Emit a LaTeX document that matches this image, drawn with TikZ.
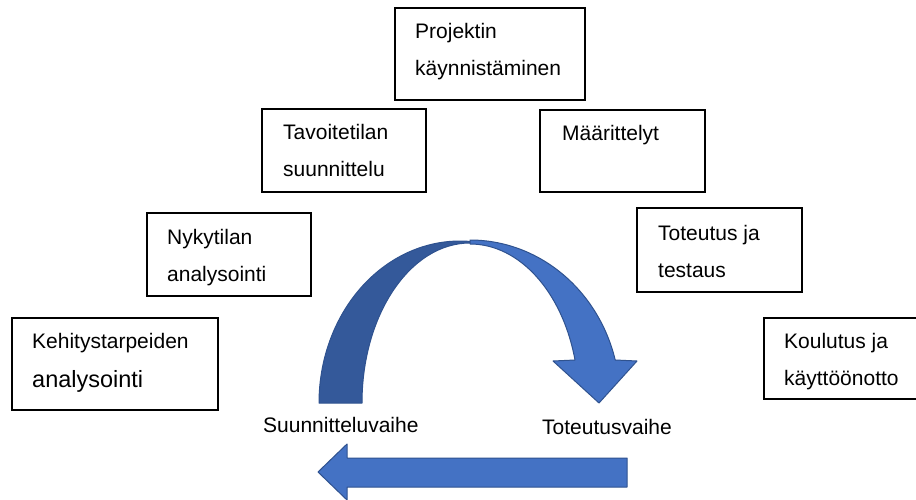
\documentclass[tikz,border=0pt]{standalone}
\usepackage{fontspec}
\setmainfont{Liberation Sans}
\definecolor{lightblue}{HTML}{4472C4}
\definecolor{darkblue}{HTML}{34599A}
\definecolor{edgeblue}{HTML}{2F528F}
\tikzset{
  box/.style={draw=black, line width=1.2pt, rectangle, inner sep=0pt},
  txt/.style={anchor=base west, inner sep=0pt, font=\fontsize{21}{25}\selectfont, text=black},
  bigtxt/.style={anchor=base west, inner sep=0pt, font=\fontsize{23.5}{28}\selectfont, text=black},
  shapefill/.style={draw=edgeblue, line width=1pt, line join=round}
}
\begin{document}
\begin{tikzpicture}[x=1pt,y=1pt]
\useasboundingbox (0,0) rectangle (916,499);
\fill[white] (0,0) rectangle (916,499);

% boxes
\node[box, minimum width=190pt, minimum height=92pt] (bproj) at (490,445) {};
\node[box, minimum width=164pt, minimum height=83pt] (btavo) at (344,348.5) {};
\node[box, minimum width=165pt, minimum height=82pt] (bmaar) at (622.5,348) {};
\node[box, minimum width=164pt, minimum height=83pt] (bnyky) at (229,244.5) {};
\node[box, minimum width=165pt, minimum height=84pt] (btote) at (719.5,249) {};
\node[box, minimum width=206pt, minimum height=92pt] (bkehi) at (115,135) {};
\node[box, minimum width=158pt, minimum height=81pt] (bkoul) at (843,140.5) {};

% texts
\node[txt] (tproj1) at (415,460) {Projektin};
\node[txt] (tproj2) at (415,423) {käynnistäminen};
\node[txt] (ttavo1) at (283,359) {Tavoitetilan};
\node[txt] (ttavo2) at (283,322) {suunnittelu};
\node[txt] (tmaar) at (562,358) {Määrittelyt};
\node[txt] (tnyky1) at (167,255) {Nykytilan};
\node[txt] (tnyky2) at (167,218) {analysointi};
\node[txt] (ttote1) at (658,259) {Toteutus ja};
\node[txt] (ttote2) at (658,222) {testaus};
\node[txt] (tkehi1) at (32,151) {Kehitystarpeiden};
\node[bigtxt] (tkehi2) at (32,112) {analysointi};
\node[txt] (tkoul1) at (784,151) {Koulutus ja};
\node[txt] (tkoul2) at (784,114) {käyttöönotto};
\node[txt] (lsuun) at (263,67) {Suunnitteluvaihe};
\node[txt] (ltote) at (542,65) {Toteutusvaihe};

% curved arrow: dark back band
\path[shapefill, fill=darkblue]
  (319,96) arc[start angle=180, end angle=86, x radius=141, y radius=162]
  -- (470,256) arc[start angle=90, end angle=180, x radius=108, y radius=160]
  -- cycle;
% curved arrow: light front band with head
\path[shapefill, fill=lightblue]
  (470,259) arc[start angle=90, end angle=14.48, x radius=150, y radius=160]
  -- (637,138) -- (599,96) -- (553,138) -- (575,139)
  arc[start angle=14.86, end angle=90, x radius=108.6, y radius=156]
  -- cycle;

% straight arrow pointing left
\path[shapefill, fill=lightblue]
  (318,27) -- (347,55) -- (347,41) -- (627,41) -- (627,12) -- (347,12) -- (347,-1) -- cycle;
\end{tikzpicture}
\end{document}
